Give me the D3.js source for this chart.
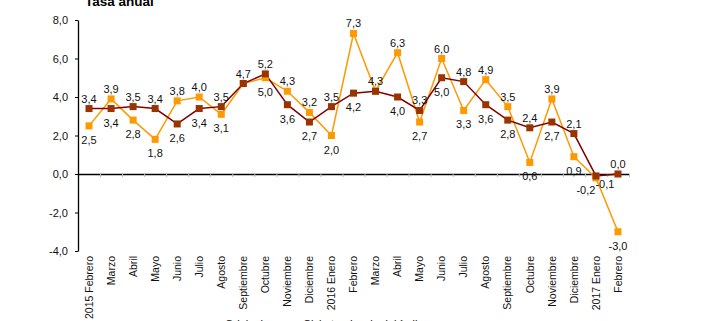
<!DOCTYPE html>
<html>
<head>
<meta charset="utf-8">
<script src="https://cdn.jsdelivr.net/npm/d3@7"></script>
<style>
  body { margin: 0; background: #fff; }
  svg { display: block; font-family: "Liberation Sans", Arial, sans-serif; }
</style>
</head>
<body>
<svg id="chart"></svg>
<script>
const months = ['2015 Febrero', 'Marzo', 'Abril', 'Mayo', 'Junio', 'Julio', 'Agosto', 'Septiembre',
    'Octubre', 'Noviembre', 'Diciembre', '2016 Enero', 'Febrero', 'Marzo', 'Abril', 'Mayo', 'Junio',
    'Julio', 'Agosto', 'Septiembre', 'Octubre', 'Noviembre', 'Diciembre', '2017 Enero', 'Febrero'];

const tendencia = [3.4, 3.4, 3.5, 3.4, 2.6, 3.4, 3.5, 4.7, 5.2, 3.6, 2.7, 3.5, 4.2, 4.3, 4.0, 3.3,
    5.0, 4.8, 3.6, 2.8, 2.4, 2.7, 2.1, -0.1, 0.0];

const original = [2.5, 3.9, 2.8, 1.8, 3.8, 4.0, 3.1, 4.7, 5.0, 4.3, 3.2, 2.0, 7.3, 4.3, 6.3, 2.7,
    6.0, 3.3, 4.9, 3.5, 0.6, 3.9, 0.9, -0.2, -3.0];

const yTicks = [-4, -2, 0, 2, 4, 6, 8];

const legendNames = ['Original', 'Ciclo-tendencia del índice'];

class LineChart {

    constructor(config) {
        this.config = {
            parent: config.parent,
            width: config.width || 720,
            height: config.height || 321,
            margin: config.margin || { top: 20, right: 91, bottom: 70, left: 78 }
        };
        this.init();
    }

    init() {
        let self = this;
        const fmt = v => d3.format('.1f')(v).replace('.', ',').replace('−', '-');

        self.svg = d3.select(self.config.parent)
            .attr('width', self.config.width)
            .attr('height', self.config.height);

        self.chart = self.svg.append('g')
            .attr('transform', `translate(${self.config.margin.left}, ${self.config.margin.top})`);

        self.inner_width = self.config.width - self.config.margin.left - self.config.margin.right;
        self.inner_height = self.config.height - self.config.margin.top - self.config.margin.bottom;

        self.xscale = d3.scaleBand()
            .domain(d3.range(months.length))
            .range([0, self.inner_width]);

        self.yscale = d3.scaleLinear()
            .domain([-4, 8])
            .range([self.inner_height, 0]);

        const cx = i => self.xscale(i) + self.xscale.bandwidth() / 2;

        // title, top edge clipped
        self.svg.append('text')
            .attr('x', 85)
            .attr('y', 6)
            .attr('font-size', 13.5)
            .attr('font-weight', 'bold')
            .text('Tasa anual');

        // y axis
        const yaxis = d3.axisLeft(self.yscale)
            .tickValues(yTicks)
            .tickSize(3)
            .tickPadding(7)
            .tickSizeOuter(0)
            .tickFormat(fmt);
        const yg = self.chart.append('g').call(yaxis);
        yg.select('.domain').attr('stroke', '#000').attr('stroke-width', 1.3);
        yg.selectAll('.tick line').attr('stroke', '#000');
        yg.selectAll('.tick text').attr('font-size', 11).attr('fill', '#111').attr('font-family', null);

        // zero line with band ticks
        const y0 = self.yscale(0);
        const xaxis = d3.axisBottom(d3.scaleLinear().domain([0, months.length]).range([0, self.inner_width]))
            .tickValues(d3.range(1, months.length + 1))
            .tickSize(3)
            .tickSizeOuter(0)
            .tickFormat('');
        const xg = self.chart.append('g')
            .attr('transform', `translate(0, ${y0})`)
            .call(xaxis);
        xg.select('.domain').attr('stroke', '#000').attr('stroke-width', 1.3);
        xg.selectAll('.tick line').attr('stroke', '#bbb');

        // month labels along the bottom
        self.chart.append('g')
            .selectAll('text')
            .data(months)
            .join('text')
            .attr('transform', (d, i) => `translate(${cx(i)}, ${self.inner_height + 5}) rotate(-90)`)
            .attr('text-anchor', 'end')
            .attr('dy', '0.35em')
            .attr('font-size', 10.5)
            .attr('fill', '#111')
            .text(d => d);

        const line = d3.line()
            .x((d, i) => cx(i))
            .y(d => self.yscale(d));

        const series = [
            { values: original, line: '#ff9900', fill: '#ff9900' },
            { values: tendencia, line: '#800000', fill: '#993300' }
        ];

        series.forEach(s => {
            self.chart.append('path')
                .attr('d', line(s.values))
                .attr('stroke', s.line)
                .attr('stroke-width', 1.5)
                .attr('fill', 'none');
        });

        const size = 7;
        series.forEach(s => {
            self.chart.append('g')
                .selectAll('rect')
                .data(s.values)
                .join('rect')
                .attr('x', (d, i) => cx(i) - size / 2)
                .attr('y', d => self.yscale(d) - size / 2)
                .attr('width', size)
                .attr('height', size)
                .attr('fill', s.fill);
        });

        // value labels: higher value above, lower below
        const labels = [];
        months.forEach((m, i) => {
            const a = tendencia[i], b = original[i];
            if (a === b) {
                labels.push({ i, v: a, dx: 0, dy: -6 });
            } else if (Math.abs(a - b) < 0.15) {
                labels.push({ i, v: a, dx: 9, dy: 12 });
                labels.push({ i, v: b, dx: -10, dy: 16 });
            } else {
                labels.push({ i, v: Math.max(a, b), dx: 0, dy: -6 });
                labels.push({ i, v: Math.min(a, b), dx: 0, dy: 18 });
            }
        });

        self.chart.append('g')
            .selectAll('text')
            .data(labels)
            .join('text')
            .attr('x', d => cx(d.i) + d.dx)
            .attr('y', d => self.yscale(d.v) + d.dy)
            .attr('text-anchor', 'middle')
            .attr('font-size', 11)
            .attr('fill', '#111')
            .text(d => fmt(d.v));

        // legend, mostly below the visible area
        const legend = self.svg.append('g')
            .attr('transform', `translate(225, 328)`);
        legend.selectAll('text')
            .data(legendNames)
            .join('text')
            .attr('x', (d, i) => i * 78)
            .attr('font-size', 11)
            .attr('fill', '#111')
            .text(d => d);
    }
}

new LineChart({ parent: '#chart', width: 720, height: 321 });
</script>
</body>
</html>
